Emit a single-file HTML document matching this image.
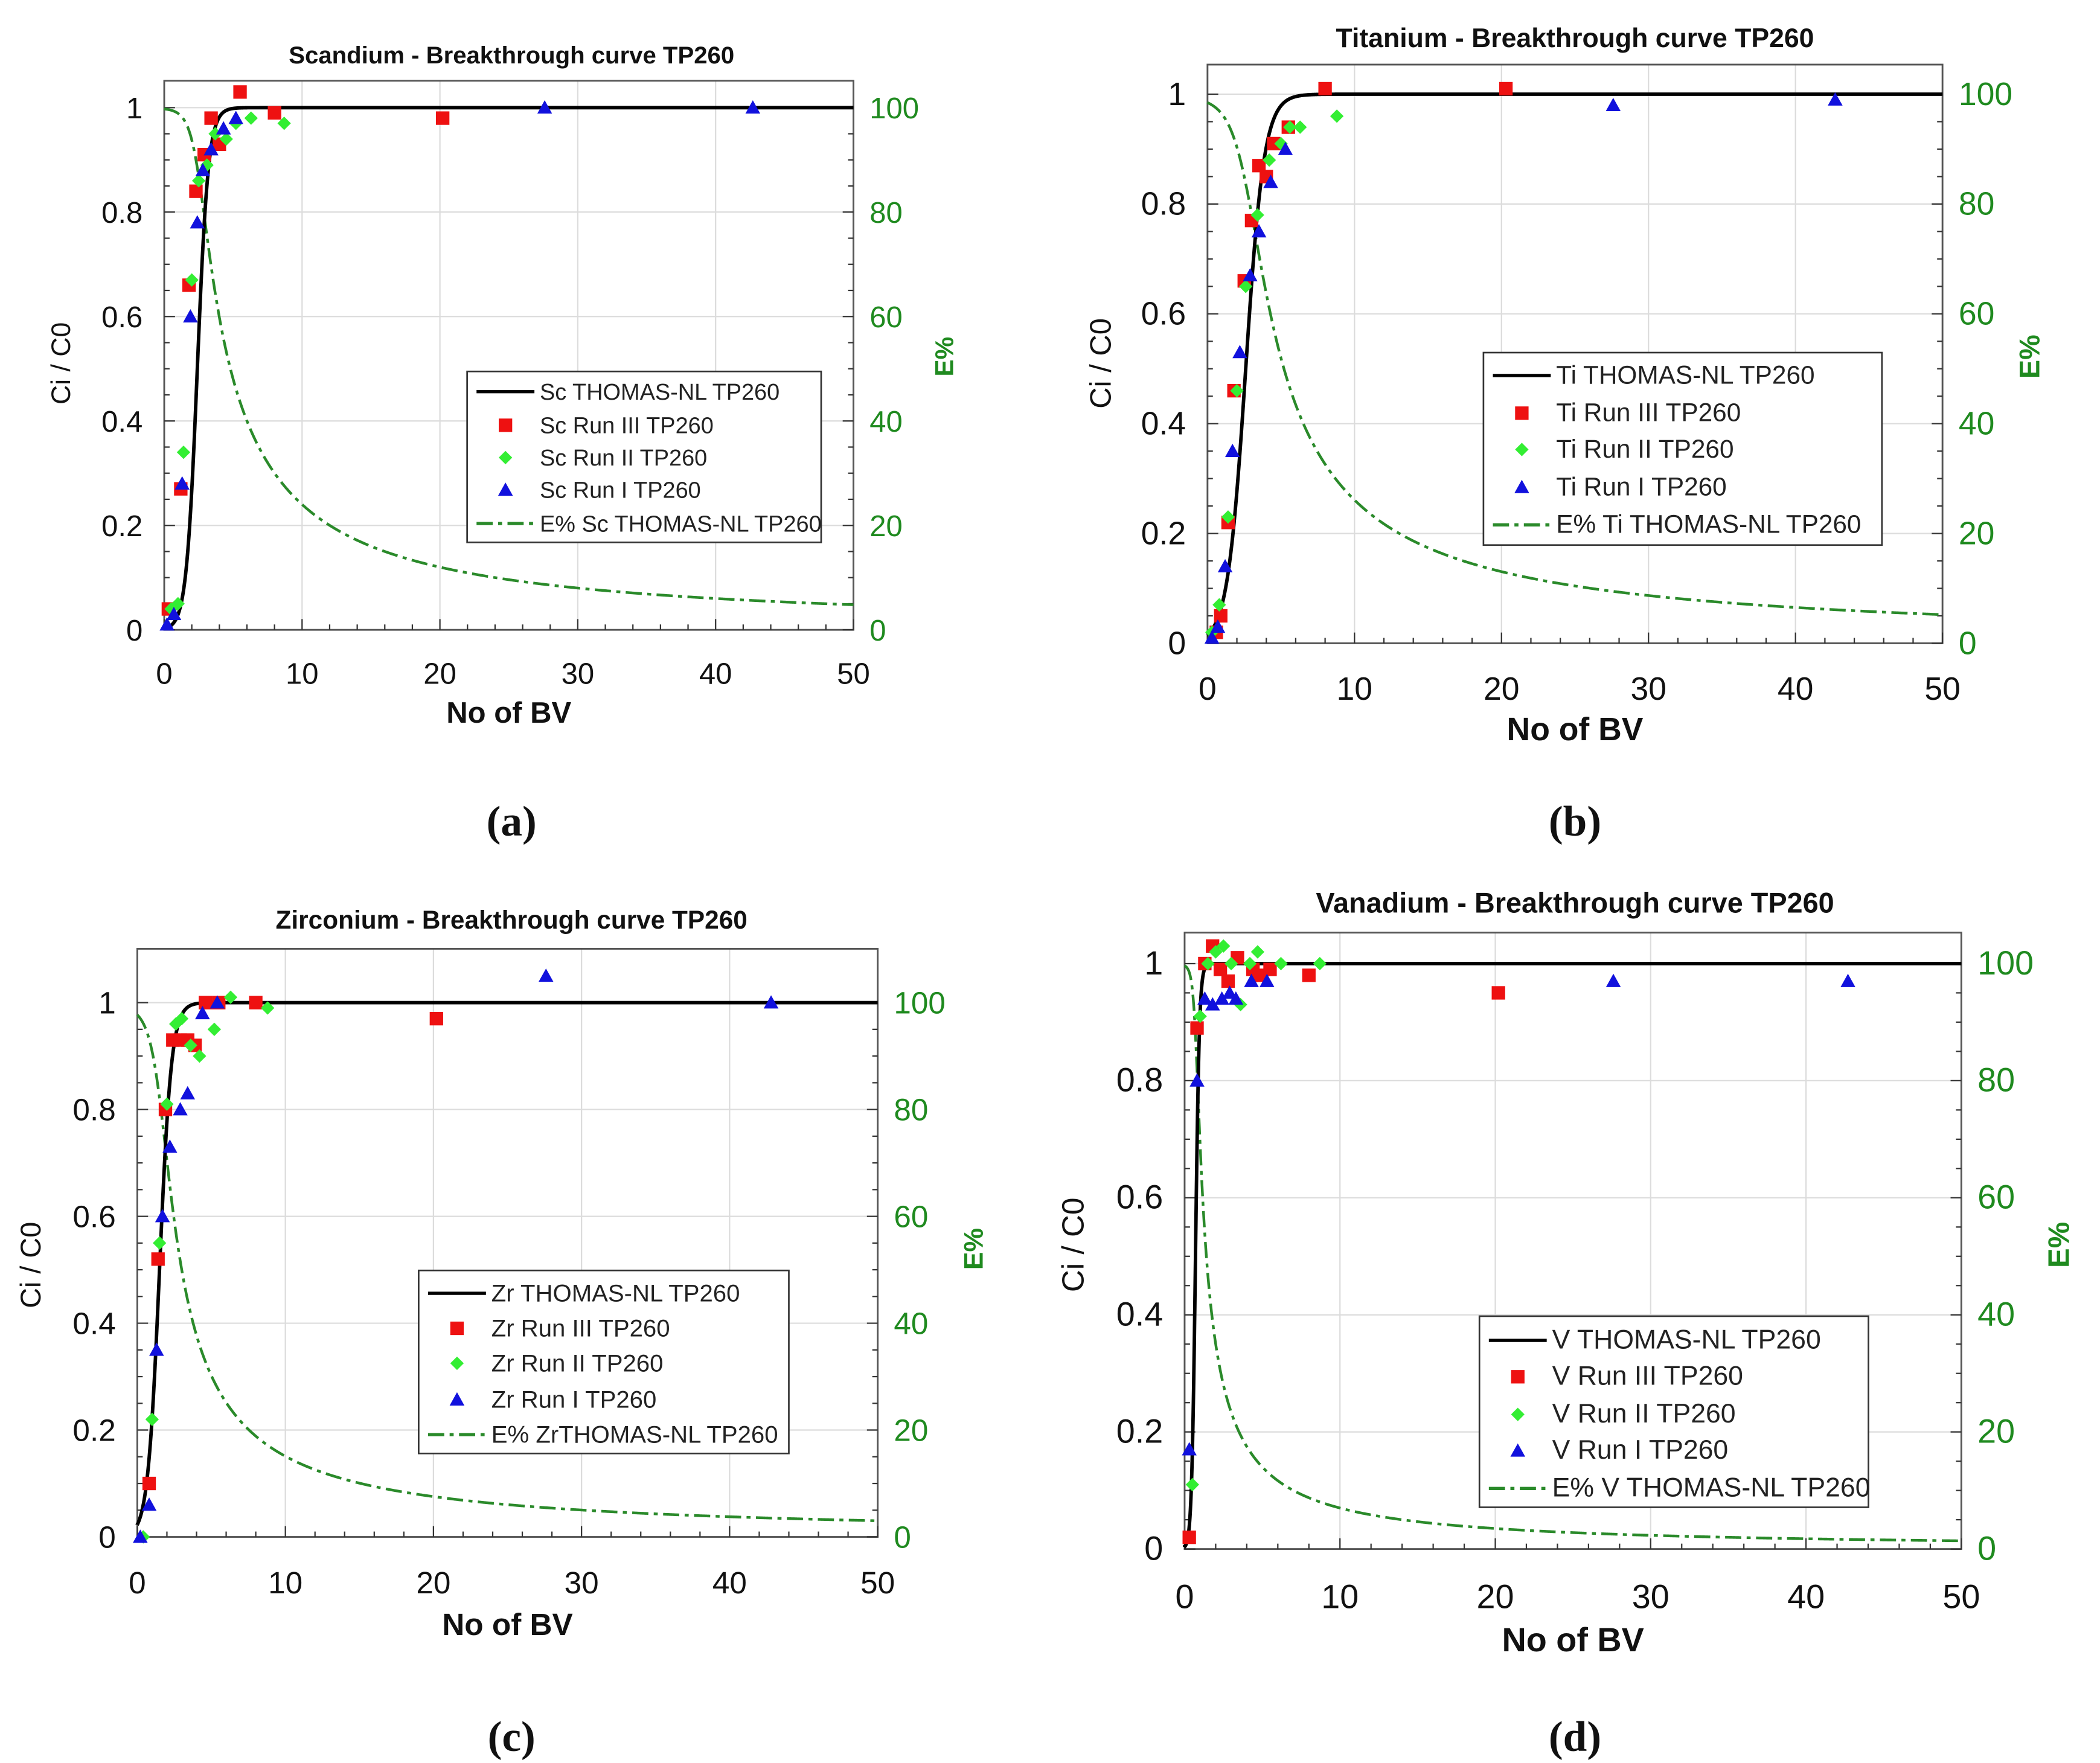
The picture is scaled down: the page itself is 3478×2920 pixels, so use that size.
<!DOCTYPE html>
<html><head><meta charset="utf-8">
<style>
html,body{margin:0;padding:0;background:#fff;}
svg{display:block;}
</style></head>
<body>
<svg id="fig" xmlns="http://www.w3.org/2000/svg" width="3478" height="2920" viewBox="0 0 1560 1310" preserveAspectRatio="none" style="font-family:'Liberation Sans',sans-serif"></svg>
<script>
// ---- Data (Ci/C0 vs No of BV) ----
const scRun3X=[0.3,1.2,1.8,2.3,2.9,3.4,4.0,5.5,8.0,20.2];
const scRun3Y=[0.04,0.27,0.66,0.84,0.91,0.98,0.93,1.03,0.99,0.98];
const scRun2X=[0.5,1.0,1.4,2.0,2.5,3.1,3.7,4.5,5.2,6.3,8.7];
const scRun2Y=[0.04,0.05,0.34,0.67,0.86,0.89,0.95,0.94,0.97,0.98,0.97];
const scRun1X=[0.2,0.7,1.3,1.9,2.4,2.8,3.4,4.3,5.2,27.6,42.7];
const scRun1Y=[0.01,0.03,0.28,0.60,0.78,0.88,0.92,0.96,0.98,1.0,1.0];

const tiRun3X=[0.6,0.9,1.4,1.8,2.5,3.0,3.5,4.0,4.5,5.5,8.0,20.3];
const tiRun3Y=[0.02,0.05,0.22,0.46,0.66,0.77,0.87,0.85,0.91,0.94,1.01,1.01];
const tiRun2X=[0.3,0.8,1.4,2.0,2.6,3.4,4.2,5.0,5.6,6.3,8.8];
const tiRun2Y=[0.02,0.07,0.23,0.46,0.65,0.78,0.88,0.91,0.94,0.94,0.96];
const tiRun1X=[0.3,0.7,1.2,1.7,2.2,2.9,3.5,4.3,5.3,27.6,42.7];
const tiRun1Y=[0.01,0.03,0.14,0.35,0.53,0.67,0.75,0.84,0.90,0.98,0.99];

const zrRun3X=[0.8,1.4,1.9,2.4,2.9,3.4,3.9,4.6,5.5,8.0,20.2];
const zrRun3Y=[0.10,0.52,0.80,0.93,0.93,0.93,0.92,1.0,1.0,1.0,0.97];
const zrRun2X=[0.4,1.0,1.5,2.0,2.6,3.0,3.6,4.2,5.2,6.3,8.8];
const zrRun2Y=[0.0,0.22,0.55,0.81,0.96,0.97,0.92,0.90,0.95,1.01,0.99];
const zrRun1X=[0.2,0.8,1.3,1.7,2.2,2.9,3.4,4.4,5.4,27.6,42.8];
const zrRun1Y=[0.0,0.06,0.35,0.60,0.73,0.80,0.83,0.98,1.0,1.05,1.0];

const vRun3X=[0.3,0.8,1.3,1.8,2.3,2.8,3.4,4.4,4.8,5.5,8.0,20.2];
const vRun3Y=[0.02,0.89,1.0,1.03,0.99,0.97,1.01,0.99,0.98,0.99,0.98,0.95];
const vRun2X=[0.5,1.0,1.5,2.0,2.5,3.0,3.6,4.2,4.7,6.2,8.7];
const vRun2Y=[0.11,0.91,1.0,1.02,1.03,1.0,0.93,1.0,1.02,1.0,1.0];
const vRun1X=[0.3,0.8,1.3,1.8,2.4,2.9,3.3,4.3,5.3,27.6,42.7];
const vRun1Y=[0.17,0.80,0.94,0.93,0.94,0.95,0.94,0.97,0.97,0.97,0.97];

// Thomas model parameters [midpoint BV, steepness]
const thomasMid=[2.4,2.6,1.5,0.7];
const thomasK=[2.5,1.6,2.5,8];

const xTicks=[0,10,20,30,40,50];
const yTicks=[0,0.2,0.4,0.6,0.8,1];
const eTicks=[0,20,40,60,80,100];

const panels=[
 {el:'Sc',title:'Scandium - Breakthrough curve TP260',L:122,R:634,T:60,B:468,y1:80,lab:'(a)',
  leg:[347,276,610,403],legY:[291,316,340,364,389],eName:'E% Sc THOMAS-NL TP260',
  r3:[scRun3X,scRun3Y],r2:[scRun2X,scRun2Y],r1:[scRun1X,scRun1Y],ylab:[52,270],elab:[708,265],xlabY:500,nY:530,tY:41,cx:380,labY:610,fs:19},
 {el:'Ti',title:'Titanium - Breakthrough curve TP260',L:897,R:1443,T:48,B:478,y1:70,lab:'(b)',
  leg:[1102,262,1398,405],legY:[279,307,334,362,390],eName:'E% Ti THOMAS-NL TP260',
  r3:[tiRun3X,tiRun3Y],r2:[tiRun2X,tiRun2Y],r1:[tiRun1X,tiRun1Y],ylab:[825,270],elab:[1515,265],xlabY:512,nY:543,tY:29,cx:1170,labY:610,fs:21},
 {el:'Zr',title:'Zirconium - Breakthrough curve TP260',L:102,R:652,T:705,B:1142,y1:745,lab:'(c)',
  leg:[311,944,586,1080],legY:[961,987,1013,1040,1066],eName:'E% ZrTHOMAS-NL TP260',
  r3:[zrRun3X,zrRun3Y],r2:[zrRun2X,zrRun2Y],r1:[zrRun1X,zrRun1Y],ylab:[30,940],elab:[730,928],xlabY:1176,nY:1208,tY:684,cx:380,labY:1290,fs:20},
 {el:'V',title:'Vanadium - Breakthrough curve TP260',L:880,R:1457,T:693,B:1151,y1:716,lab:'(d)',
  leg:[1099,978,1388,1120],legY:[996,1023,1051,1078,1106],eName:'E% V THOMAS-NL TP260',
  r3:[vRun3X,vRun3Y],r2:[vRun2X,vRun2Y],r1:[vRun1X,vRun1Y],ylab:[805,925],elab:[1537,925],xlabY:1187,nY:1220,tY:672,cx:1170,labY:1290,fs:22}
];

const NS='http://www.w3.org/2000/svg';
const svg=document.getElementById('fig');
function mk(tag,attrs,parent,txt){const e=document.createElementNS(NS,tag);for(const k in attrs)e.setAttribute(k,attrs[k]);if(txt!==undefined)e.textContent=txt;(parent||svg).appendChild(e);return e;}
const GREEN='#1f8a1f';

function square(g,x,y,s){return mk('rect',{x:x-s,y:y-s,width:2*s,height:2*s,fill:'#ee1111'},g);}
function diamond(g,x,y,s){return mk('polygon',{points:`${x},${y-s} ${x+s},${y} ${x},${y+s} ${x-s},${y}`,fill:'#33ee33'},g);}
function tri(g,x,y,s){return mk('polygon',{points:`${x},${y-s} ${x+s},${y+s*0.8} ${x-s},${y+s*0.8}`,fill:'#1111dd'},g);}

panels.forEach((p,i)=>{
  const g=mk('g',{});
  
  
  const X=v=>p.L+(p.R-p.L)*v/50;
  const Y=v=>p.B-(p.B-p.y1)*v;
  const YE=v=>p.B-(p.B-p.y1)*v/100;
  const tf=p.fs+3;
  xTicks.forEach(t=>{if(t>0&&t<50){const l=mk('line',{x1:X(t),x2:X(t),y1:p.T,y2:p.B,stroke:'#dcdcdc','stroke-width':1},g);}});
  yTicks.forEach(t=>{if(t>0){const l=mk('line',{x1:p.L,x2:p.R,y1:Y(t),y2:Y(t),stroke:'#dcdcdc','stroke-width':1},g);}});
  const fr=mk('rect',{x:p.L,y:p.T,width:p.R-p.L,height:p.B-p.T,fill:'none',stroke:'#555','stroke-width':1.3},g);
  
  for(let t=0;t<=50;t+=2){const len=t%10===0?8:4;mk('line',{x1:X(t),x2:X(t),y1:p.B,y2:p.B-len,stroke:'#333','stroke-width':1},g);}
  for(let t=0;t<=1.04;t+=0.05){const len=Math.abs(t*5-Math.round(t*5))<0.01?8:4;mk('line',{x1:p.L,x2:p.L+len,y1:Y(t),y2:Y(t),stroke:'#333','stroke-width':1},g);}
  for(let t=0;t<=104;t+=5){const len=t%20===0?8:4;mk('line',{x1:p.R,x2:p.R-len,y1:YE(t),y2:YE(t),stroke:'#333','stroke-width':1},g);}
  xTicks.forEach(t=>{const e=mk('text',{x:X(t),y:p.xlabY+8,'text-anchor':'middle','font-size':tf,fill:'#111'},g,String(t));});
  yTicks.forEach(t=>{const e=mk('text',{x:p.L-16,y:Y(t)+8,'text-anchor':'end','font-size':tf,fill:'#111'},g,String(t));});
  eTicks.forEach(t=>{const e=mk('text',{x:p.R+12,y:YE(t)+8,'text-anchor':'start','font-size':tf,fill:GREEN},g,String(t));});
  let e=mk('text',{x:p.cx,y:p.tY+6,'text-anchor':'middle','font-size':p.fs-1,'font-weight':'bold',fill:'#111'},g,p.title);
  
  e=mk('text',{x:(p.L+p.R)/2,y:p.nY+7,'text-anchor':'middle','font-size':p.fs+3,'font-weight':'bold',fill:'#111'},g,'No of BV');
  
  e=mk('text',{x:p.ylab[0],y:p.ylab[1],'text-anchor':'middle','font-size':p.fs+1,fill:'#111',transform:`rotate(-90 ${p.ylab[0]} ${p.ylab[1]})`},g,'Ci / C0');
  
  e=mk('text',{x:p.elab[0],y:p.elab[1],'text-anchor':'middle','font-size':p.fs,'font-weight':'bold',fill:GREEN,transform:`rotate(-90 ${p.elab[0]} ${p.elab[1]})`},g,'E%');
  
  e=mk('text',{x:p.cx,y:p.labY+11,'text-anchor':'middle',style:"font-family:'Liberation Serif',serif;font-size:32px;font-weight:bold",fill:'#111'},g,p.lab);
  
  const t0=thomasMid[i],k=thomasK[i];
  const C=x=>1/(1+Math.exp(k*(t0-x)));
  const Ecum=x=>x<=1e-6?100*(1-C(0)):100*(x-(1/k)*Math.log((1+Math.exp(k*(x-t0)))/(1+Math.exp(-k*t0))))/x;
  let d1='',d2='';
  for(let s=0;s<=2000;s++){const x=50*Math.pow(s/2000,1.6);d1+=(s?'L':'M')+X(x).toFixed(2)+','+Y(C(x)).toFixed(2);d2+=(s?'L':'M')+X(x).toFixed(2)+','+YE(Ecum(x)).toFixed(2);}
  e=mk('path',{d:d2,fill:'none',stroke:'#2a8a2a','stroke-width':2,'stroke-dasharray':'12 4 3 4'},g);
  
  e=mk('path',{d:d1,fill:'none',stroke:'#000','stroke-width':2.6},g);
  
  p.r3[0].forEach((x,j)=>{const m=square(g,X(x),Y(p.r3[1][j]),5);});
  p.r2[0].forEach((x,j)=>{const m=diamond(g,X(x),Y(p.r2[1][j]),5);});
  p.r1[0].forEach((x,j)=>{const m=tri(g,X(x),Y(p.r1[1][j]),5.5);});
  const lg=mk('g',{},g);
  
  const [lx1,ly1,lx2,ly2]=p.leg;
  mk('rect',{x:lx1,y:ly1,width:lx2-lx1,height:ly2-ly1,fill:'#fff',stroke:'#333','stroke-width':1.2},lg);
  const sx1=lx1+7,sx2=lx1+50,sc=(sx1+sx2)/2,tx=lx1+54;
  const names=[p.el+' THOMAS-NL TP260',p.el+' Run III TP260',p.el+' Run II TP260',p.el+' Run I TP260',p.eName];
  p.legY.forEach((ly,j)=>{
    if(j===0)mk('line',{x1:sx1,x2:sx2,y1:ly,y2:ly,stroke:'#000','stroke-width':2.4},lg);
    if(j===1)square(lg,sc,ly,5);
    if(j===2)diamond(lg,sc,ly,5);
    if(j===3)tri(lg,sc,ly,5.5);
    if(j===4)mk('line',{x1:sx1,x2:sx2,y1:ly,y2:ly,stroke:'#2a8a2a','stroke-width':2.4,'stroke-dasharray':'12 4 3 4'},lg);
    const t=mk('text',{x:tx,y:ly+6,'font-size':p.fs-2,fill:'#222'},lg,names[j]);
    
    
  });
});
</script>
</body></html>
